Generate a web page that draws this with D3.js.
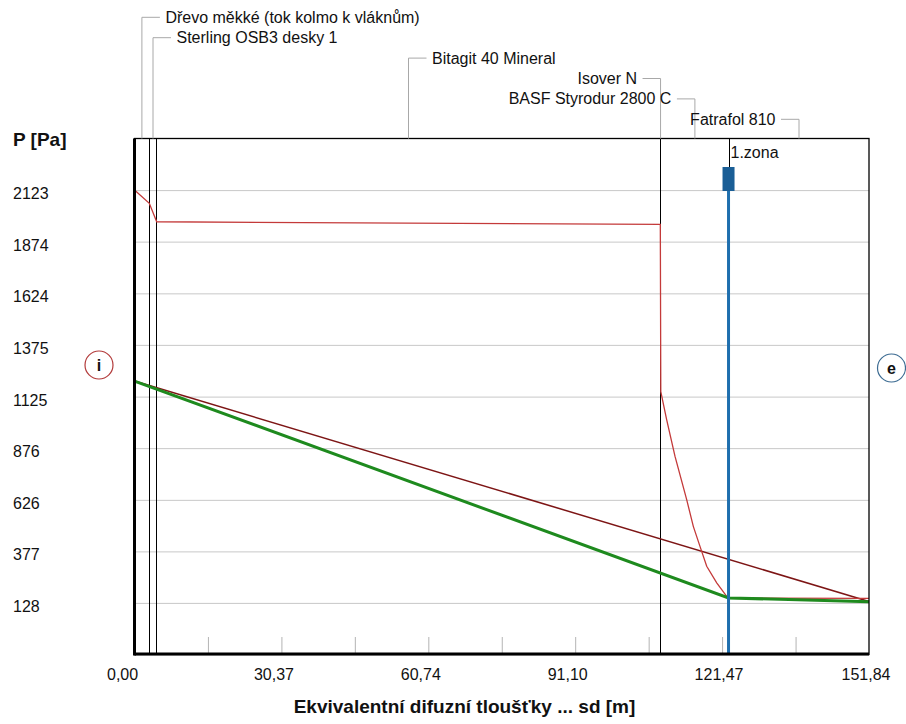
<!DOCTYPE html>
<html>
<head>
<meta charset="utf-8">
<script src="https://cdn.jsdelivr.net/npm/d3@7"></script>
<style>
  html, body { margin: 0; padding: 0; background: #fff; }
  svg { display: block; font-family: "Liberation Sans", Arial, sans-serif; }
</style>
</head>
<body>
<svg id="chart" width="906" height="724"></svg>
<script>
// Layers of the assembly, interior -> exterior
const layerNames = [
  "Dřevo měkké (tok kolmo k vláknům)",
  "Sterling OSB3 desky 1",
  "Bitagit 40 Mineral",
  "Isover N",
  "BASF Styrodur 2800 C",
  "Fatrafol 810"
];
// Cumulative equivalent diffusion thickness at layer boundaries, sd [m]
const layerBounds = [0, 3.06, 4.59, 108.70, 108.80, 122.90, 151.84];

// Saturated water vapour pressure along the assembly
const pSatSd = [0, 3.06, 4.59, 108.70, 108.80, 110.02, 111.74, 114.15, 115.52, 116.90, 118.29, 120.36, 122.42, 122.90, 151.84];
const pSatP  = [2123, 2059, 1970, 1957, 1149, 1013, 836, 627, 498, 401, 305, 225, 160, 152, 150];

// Partial vapour pressure without condensation
const pLinSd = [0, 151.84];
const pLinP  = [1200, 135];

// Partial vapour pressure with condensation
const pCondSd = [0, 122.80, 151.84];
const pCondP  = [1200, 152, 134];

// Condensation zones
const zoneNames = ["1.zona"];
const zoneSd = [122.80];

// Axes
const yTicks = [128, 377, 626, 876, 1125, 1375, 1624, 1874, 2123];
const yDomain = [-121.375, 2372.375];
const xDomain = [0, 151.84];
const xLabels = [0, 30.37, 60.74, 91.10, 121.47, 151.84];
const xMinorTicks = [15.18, 30.37, 45.55, 60.74, 75.92, 91.10, 106.29, 121.47, 136.66];

const yTitle = "P [Pa]";
const xTitle = "Ekvivalentní difuzní tloušťky ... sd [m]";

// ---------------------------------------------------------------
const svg = d3.select("#chart");
const plot = { left: 134.5, right: 869, top: 138.5, bottom: 654.5 };

const x = d3.scaleLinear().domain(xDomain).range([plot.left, plot.right]);
const y = d3.scaleLinear().domain(yDomain).range([plot.bottom, plot.top]);

const fmtX = v => d3.format(".2f")(v).replace(".", ",");

// horizontal grid
const grid = svg.append("g")
  .attr("transform", `translate(${plot.left},0)`)
  .call(d3.axisLeft(y).tickValues(yTicks).tickSize(-(plot.right - plot.left)).tickFormat(""));
grid.select(".domain").remove();
grid.selectAll(".tick line").attr("stroke", "#c8c8c8").attr("stroke-width", 1);

// minor ticks along the bottom, pointing inwards
const minor = svg.append("g")
  .attr("transform", `translate(0,${plot.bottom - 0.5})`)
  .call(d3.axisBottom(x).tickValues(xMinorTicks).tickSize(-17).tickFormat(""));
minor.select(".domain").remove();
minor.selectAll(".tick line").attr("stroke", "#b4b4b4").attr("stroke-width", 1);

// y tick labels (left aligned)
svg.append("g").selectAll("text")
  .data(yTicks)
  .join("text")
  .attr("x", 13)
  .attr("y", d => y(d) + 9)
  .attr("font-size", 16)
  .attr("fill", "#111")
  .text(d => d);

// x tick labels
svg.append("g").selectAll("text")
  .data(xLabels)
  .join("text")
  .attr("x", d => x(d) - 27.5)
  .attr("y", 680)
  .attr("font-size", 16)
  .attr("fill", "#111")
  .text(fmtX);

// axis titles
svg.append("text")
  .attr("x", 13).attr("y", 146)
  .attr("font-size", 19).attr("font-weight", "bold").attr("fill", "#111")
  .text(yTitle);
svg.append("text")
  .attr("x", 464.5).attr("y", 713)
  .attr("text-anchor", "middle")
  .attr("font-size", 19).attr("font-weight", "bold").attr("fill", "#111")
  .text(xTitle);

// layer boundaries, snapped to whole pixels (thin layers share one line)
const boundaryPx = Array.from(new Set(layerBounds.slice(1, -1).map(d => Math.floor(x(d)) + 0.5)));
svg.append("g").selectAll("line")
  .data(boundaryPx)
  .join("line")
  .attr("x1", d => d).attr("x2", d => d)
  .attr("y1", plot.top).attr("y2", plot.bottom)
  .attr("stroke", "#000").attr("stroke-width", 1);

// pressure curves
const line = d3.line().x(d => x(d[0])).y(d => y(d[1]));
const zip = (a, b) => a.map((v, i) => [v, b[i]]);

svg.append("path")
  .datum(zip(pLinSd, pLinP))
  .attr("d", line).attr("fill", "none")
  .attr("stroke", "#7d1515").attr("stroke-width", 1.5);

svg.append("path")
  .datum(zip(pSatSd, pSatP))
  .attr("d", line).attr("fill", "none")
  .attr("stroke", "#c43a3a").attr("stroke-width", 1.3);

svg.append("path")
  .datum(zip(pCondSd, pCondP))
  .attr("d", line).attr("fill", "none")
  .attr("stroke", "#1e8a1e").attr("stroke-width", 3);

// condensation zones
const zones = svg.append("g").selectAll("g")
  .data(zoneSd.map((d, i) => ({ sd: d, name: zoneNames[i] })))
  .join("g");
zones.append("line")
  .attr("x1", d => x(d.sd)).attr("x2", d => x(d.sd))
  .attr("y1", 167).attr("y2", plot.bottom)
  .attr("stroke", "#1f6fae").attr("stroke-width", 3);
zones.append("rect")
  .attr("x", d => x(d.sd) - 6).attr("y", 167)
  .attr("width", 12).attr("height", 24)
  .attr("fill", "#1a5e96");
zones.append("text")
  .attr("x", d => x(d.sd) + 2).attr("y", 158)
  .attr("font-size", 16).attr("fill", "#111")
  .text(d => d.name);

// frame
svg.append("rect")
  .attr("x", plot.left).attr("y", plot.top)
  .attr("width", plot.right - plot.left).attr("height", plot.bottom - plot.top)
  .attr("fill", "none").attr("stroke", "#000").attr("stroke-width", 1.3);
svg.append("line")
  .attr("x1", plot.left).attr("x2", plot.left)
  .attr("y1", plot.top).attr("y2", plot.bottom + 1)
  .attr("stroke", "#000").attr("stroke-width", 3);
svg.append("line")
  .attr("x1", plot.left).attr("x2", plot.right)
  .attr("y1", plot.bottom - 0.5).attr("y2", plot.bottom - 0.5)
  .attr("stroke", "#000").attr("stroke-width", 3);

// layer name callouts above the plot
const midX = (plot.left + plot.right) / 2;
const callouts = layerNames.map((name, i) => {
  const cx = x((layerBounds[i] + layerBounds[i + 1]) / 2);
  return { name, cx, cy: 17.3 + i * 20.4, right: cx < midX };
});
const cg = svg.append("g").selectAll("g").data(callouts).join("g");
cg.append("path")
  .attr("d", d => {
    const hx = d.right ? d.cx + 18 : d.cx - 18;
    return `M${hx},${d.cy}H${d.cx}V${plot.top}`;
  })
  .attr("fill", "none").attr("stroke", "#a8a8a8").attr("stroke-width", 1);
cg.append("text")
  .attr("x", d => d.right ? d.cx + 23.5 : d.cx - 23.5)
  .attr("y", d => d.cy + 5.5)
  .attr("text-anchor", d => d.right ? "start" : "end")
  .attr("font-size", 16).attr("fill", "#111")
  .text(d => d.name);

// interior / exterior markers
const sides = [
  { label: "i", cx: 99, cy: 365, color: "#b23a3a" },
  { label: "e", cx: 891.5, cy: 368, color: "#3c6b92" }
];
const sg = svg.append("g").selectAll("g").data(sides).join("g");
sg.append("circle")
  .attr("cx", d => d.cx).attr("cy", d => d.cy).attr("r", 14)
  .attr("fill", "#fff").attr("stroke", d => d.color).attr("stroke-width", 1.2);
sg.append("text")
  .attr("x", d => d.cx).attr("y", d => d.cy + 5.5)
  .attr("text-anchor", "middle")
  .attr("font-size", 16).attr("font-weight", "bold").attr("fill", "#111")
  .text(d => d.label);
</script>
</body>
</html>
